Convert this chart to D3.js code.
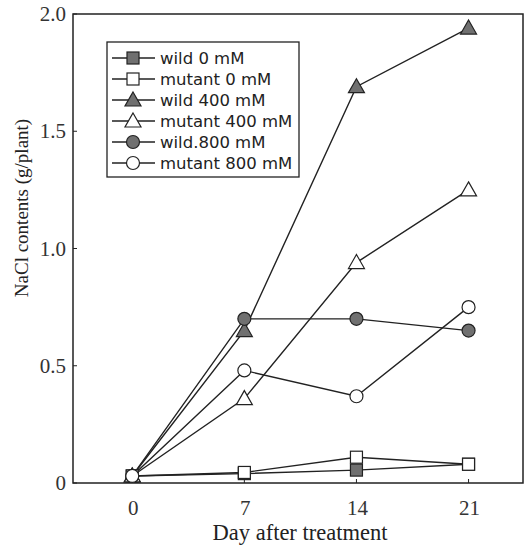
<!DOCTYPE html>
<html>
<head>
<meta charset="utf-8">
<script src="https://cdn.jsdelivr.net/npm/d3@7"></script>
<style>
  body { margin: 0; background: #fff; }
</style>
</head>
<body>
<svg id="chart" width="525" height="546"></svg>
<script>
const days = [0, 7, 14, 21];
const wild0 = [0.03, 0.04, 0.055, 0.08];
const mutant0 = [0.03, 0.045, 0.11, 0.08];
const wild400 = [0.03, 0.65, 1.69, 1.94];
const mutant400 = [0.03, 0.36, 0.94, 1.25];
const wild800 = [0.03, 0.70, 0.70, 0.65];
const mutant800 = [0.03, 0.48, 0.37, 0.75];
const seriesNames = ["wild 0 mM", "mutant 0 mM", "wild 400 mM", "mutant 400 mM", "wild.800 mM", "mutant 800 mM"];
const yTicks = [0, 0.5, 1.0, 1.5, 2.0];
const yTickLabels = ["0", "0.5", "1.0", "1.5", "2.0"];

const series = [
    { name: seriesNames[0], values: wild0, shape: "square", filled: true },
    { name: seriesNames[1], values: mutant0, shape: "square", filled: false },
    { name: seriesNames[2], values: wild400, shape: "triangle", filled: true },
    { name: seriesNames[3], values: mutant400, shape: "triangle", filled: false },
    { name: seriesNames[4], values: wild800, shape: "circle", filled: true },
    { name: seriesNames[5], values: mutant800, shape: "circle", filled: false }
];

const svg = d3.select("#chart");
const plotLeft = 73, plotRight = 523, plotTop = 14, plotBottom = 483;

const x = d3.scaleLinear().domain([-3.7, 24.4]).range([plotLeft, plotRight]);
const y = d3.scaleLinear().domain([0, 2]).range([plotBottom, plotTop]);

const serif = "'Liberation Serif', 'Times New Roman', serif";

// frame
svg.append("rect")
    .attr("x", plotLeft).attr("y", plotTop)
    .attr("width", plotRight - plotLeft).attr("height", plotBottom - plotTop)
    .attr("fill", "none").attr("stroke", "#222").attr("stroke-width", 1.5);

// y axis ticks and labels
svg.selectAll(".ytick").data(yTicks).enter().append("line")
    .attr("x1", plotLeft).attr("x2", plotLeft + 4)
    .attr("y1", d => y(d)).attr("y2", d => y(d))
    .attr("stroke", "#222");
svg.selectAll(".ylab").data(yTicks).enter().append("text")
    .attr("x", plotLeft - 7)
    .attr("y", d => y(d) + 7)
    .attr("text-anchor", "end")
    .style("font-family", serif)
    .style("font-size", "21px")
    .attr("fill", "#333")
    .text((d, i) => yTickLabels[i]);

// x axis ticks and labels
svg.selectAll(".xtick").data(days).enter().append("line")
    .attr("x1", d => x(d)).attr("x2", d => x(d))
    .attr("y1", plotBottom).attr("y2", plotBottom - 4)
    .attr("stroke", "#222");
svg.selectAll(".xlab").data(days).enter().append("text")
    .attr("x", d => x(d) + 1)
    .attr("y", plotBottom + 32)
    .attr("text-anchor", "middle")
    .style("font-family", serif)
    .style("font-size", "21px")
    .attr("fill", "#333")
    .text(d => d);

svg.append("text")
    .attr("x", 300).attr("y", 540)
    .attr("text-anchor", "middle")
    .style("font-family", serif)
    .style("font-size", "22.5px")
    .attr("fill", "#222")
    .text("Day after treatment");

svg.append("text")
    .attr("transform", "translate(28, 208) rotate(-90)")
    .attr("text-anchor", "middle")
    .style("font-family", serif)
    .style("font-size", "19px")
    .attr("fill", "#222")
    .text("NaCl contents (g/plant)");

function drawMarker(g, s) {
    const fill = s.filled ? "#707070" : "#fff";
    if (s.shape === "square") {
        g.append("rect").attr("x", -6).attr("y", -6).attr("width", 12).attr("height", 12)
            .attr("fill", fill).attr("stroke", "#222").attr("stroke-width", 1.2);
    } else if (s.shape === "triangle") {
        g.append("path").attr("d", "M0,-8 L8,6 L-8,6 Z")
            .attr("fill", fill).attr("stroke", "#222").attr("stroke-width", 1.2);
    } else {
        g.append("circle").attr("r", 6.5)
            .attr("fill", fill).attr("stroke", "#222").attr("stroke-width", 1.2);
    }
}

const line = d3.line().x((d, i) => x(days[i])).y(d => y(d));

series.forEach(s => {
    svg.append("path")
        .attr("d", line(s.values))
        .attr("fill", "none")
        .attr("stroke", "#222")
        .attr("stroke-width", 1.4);
});
series.forEach(s => {
    s.values.forEach((v, i) => {
        const g = svg.append("g").attr("transform", `translate(${x(days[i])},${y(v)})`);
        drawMarker(g, s);
    });
});

// legend
const legend = svg.append("g").attr("transform", "translate(107, 42)");
legend.append("rect")
    .attr("width", 192).attr("height", 135)
    .attr("fill", "#fff").attr("stroke", "#222").attr("stroke-width", 1.3);

series.forEach((s, i) => {
    const ly = 16 + i * 21;
    legend.append("line")
        .attr("x1", 5).attr("x2", 48).attr("y1", ly).attr("y2", ly)
        .attr("stroke", "#222").attr("stroke-width", 1.3);
    const g = legend.append("g").attr("transform", `translate(26, ${ly})`);
    drawMarker(g, s);
    legend.append("text")
        .attr("x", 53).attr("y", ly + 6)
        .style("font-family", "'DejaVu Sans', sans-serif")
        .style("font-size", "16.5px")
        .attr("fill", "#222")
        .text(s.name);
});
</script>
</body>
</html>
